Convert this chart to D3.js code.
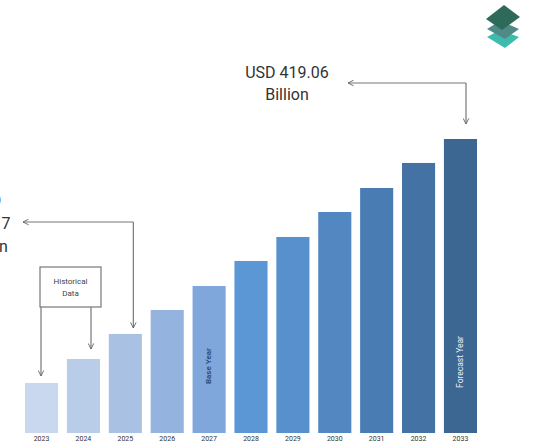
<!DOCTYPE html>
<html><head><meta charset="utf-8">
<script src="https://cdn.jsdelivr.net/npm/d3@7"></script>
<style>html,body{margin:0;padding:0;background:#fff;}svg{display:block;font-family:Roboto,"Noto Sans",sans-serif;}</style>
</head><body>
<svg id="c" width="540" height="443"></svg>
<script>
const years = ["2023","2024","2025","2026","2027","2028","2029","2030","2031","2032","2033"];
const values = [71.3, 105.5, 141.17, 175.3, 209.5, 245.2, 279.4, 315.0, 349.2, 384.9, 419.06];
const barColors = ["#c9d8ee","#b9cde9","#a9c2e4","#94b4df","#80a7db","#5c97d5","#5890cd","#5287c2","#4a7cb4","#4472a5","#3b6792"];
const endLabel = ["USD 419.06", "Billion"];
const startLabel = ["USD", "141.17", "Billion"];

const svg = d3.select("#c");
const x = d3.scaleBand().domain(years).range([25, 477]).paddingInner(0.21).paddingOuter(0);
const y = d3.scaleLinear().domain([0, 419.06]).range([433, 139]);

svg.append("defs").append("marker").attr("id","ah").attr("viewBox","0 0 10 10")
  .attr("refX",9).attr("refY",5).attr("markerWidth",7).attr("markerHeight",7)
  .attr("orient","auto-start-reverse").attr("markerUnits","userSpaceOnUse")
  .append("path").attr("d","M1,1 L9,5 L1,9").attr("fill","none").attr("stroke","#666").attr("stroke-width",1.3);

svg.selectAll("rect.bar").data(years).join("rect").attr("class","bar")
  .attr("x", d => x(d)).attr("width", x.bandwidth())
  .attr("y", (d,i) => y(values[i])).attr("height", (d,i) => y(0) - y(values[i]))
  .attr("fill", (d,i) => barColors[i]);

// x axis labels
const xa = svg.append("g").attr("transform","translate(0,433)")
  .call(d3.axisBottom(x).tickSize(0).tickPadding(3));
xa.select(".domain").remove();
xa.selectAll("text").attr("font-size",7).attr("fill","#333").attr("font-family","Roboto,sans-serif");

// Base year / forecast year labels
const bx = x("2027") + x.bandwidth()/2;
svg.append("text").attr("transform",`translate(${bx+2},366) rotate(-90)`).attr("text-anchor","middle")
  .attr("font-size",8).attr("font-weight","bold").attr("fill","#2d4f7c").text("Base Year");
const fx = x("2033") + x.bandwidth()/2;
svg.append("text").attr("transform",`translate(${fx+3},362) rotate(-90)`).attr("text-anchor","middle")
  .attr("font-size",8.5).attr("fill","#e8eef6").text("Forecast Year");

const lc = "#777";
// End annotation
const ex = 466, eyTop = 83;
svg.append("path").attr("d",`M${ex},${eyTop} L348,${eyTop}`).attr("stroke",lc).attr("fill","none").attr("stroke-width",1.2).attr("marker-end","url(#ah)");
svg.append("path").attr("d",`M${ex},${eyTop} L${ex},${y(values[10])-15}`).attr("stroke",lc).attr("fill","none").attr("stroke-width",1.2).attr("marker-end","url(#ah)");
svg.append("text").attr("x",287).attr("text-anchor","middle").attr("font-size",16).attr("fill","#333")
  .selectAll("tspan").data(endLabel).join("tspan").attr("x",287).attr("y",(d,i)=>78+i*22).text(d=>d);

// Start annotation (2025)
const sx = x("2025") + x.bandwidth()/2 + 8, sy = 222;
svg.append("path").attr("d",`M${sx},${sy} L23,${sy}`).attr("stroke",lc).attr("fill","none").attr("stroke-width",1.2).attr("marker-end","url(#ah)");
svg.append("path").attr("d",`M${sx},${sy} L${sx},${y(values[2])-6}`).attr("stroke",lc).attr("fill","none").attr("stroke-width",1.2).attr("marker-end","url(#ah)");
svg.append("text").attr("text-anchor","middle").attr("font-size",16).attr("fill","#333")
  .selectAll("tspan").data(startLabel).join("tspan").attr("x",-14).attr("y",(d,i)=>206+i*23).text(d=>d);

// Historical data box
svg.append("rect").attr("x",40).attr("y",267).attr("width",61).attr("height",40).attr("fill","#fff").attr("stroke",lc).attr("stroke-width",1.2);
svg.append("text").attr("text-anchor","middle").attr("font-size",8).attr("fill","#444")
  .selectAll("tspan").data(["Historical","Data"]).join("tspan").attr("x",70.5).attr("y",(d,i)=>284+i*12).text(d=>d);
svg.append("path").attr("d",`M41,307 L41,${y(values[0])-7}`).attr("stroke",lc).attr("fill","none").attr("stroke-width",1.2).attr("marker-end","url(#ah)");
svg.append("path").attr("d",`M91,307 L91,${y(values[1])-10}`).attr("stroke",lc).attr("fill","none").attr("stroke-width",1.2).attr("marker-end","url(#ah)");

// Logo
const logo = svg.append("g");
logo.append("path").attr("d","M487,37 L500,30 L519,37 L505,48 Z").attr("fill","#3dbcae");
logo.append("path").attr("d","M487,29 L500,21 L519,29 L505,39 Z").attr("fill","#4f8a86");
logo.append("path").attr("d","M486,19 L504,5 L520,17 L502,30 Z").attr("fill","#2d6a5a");
</script>
</body></html>
